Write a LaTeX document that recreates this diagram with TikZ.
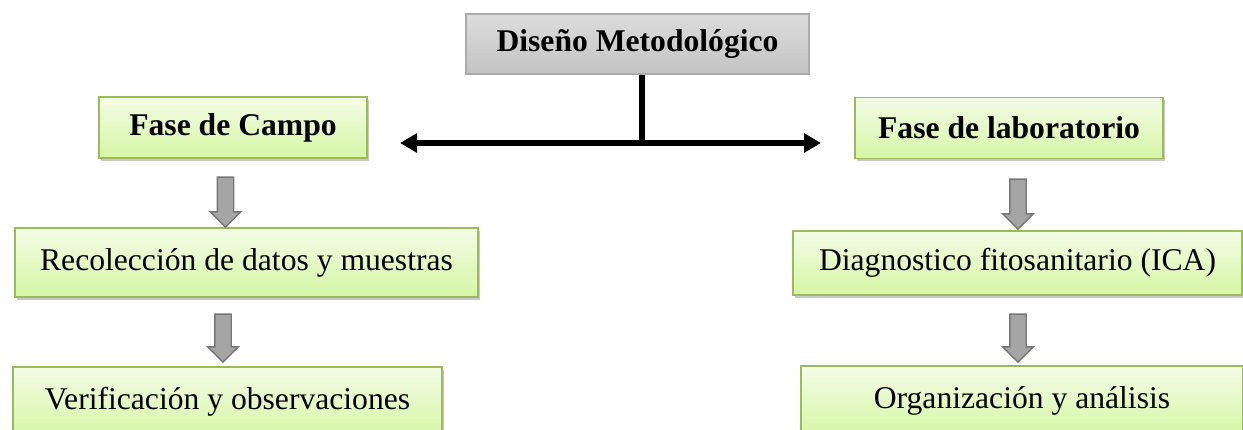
\documentclass[tikz,border=0pt]{standalone}
\usepackage{fontspec}
\setmainfont{Liberation Serif}
\usetikzlibrary{arrows.meta, shapes.arrows, shadows}

\definecolor{verdeborde}{RGB}{155,187,89}
\definecolor{verdeclaro}{RGB}{243,252,230}
\definecolor{verdeoscuro}{RGB}{214,246,164}
\definecolor{grisborde}{RGB}{170,170,170}
\definecolor{grisclaro}{RGB}{220,220,220}
\definecolor{grisoscuro}{RGB}{195,195,195}
\definecolor{flechagris}{RGB}{165,165,165}
\definecolor{flechaborde}{RGB}{118,118,118}

\begin{document}
\begin{tikzpicture}[x=0.02cm, y=-0.02cm, font=\fontsize{18}{22}\selectfont,
  caja/.style={draw=verdeborde, line width=0.9pt, top color=verdeclaro, bottom color=verdeoscuro,
    drop shadow={shadow xshift=1.2pt, shadow yshift=-1.6pt, opacity=0.3, fill=black!70},
    inner sep=0pt, minimum height=1.38cm},
  fase node/.style={caja, minimum height=1.22cm, font=\fontsize{18}{22}\selectfont\bfseries},
  titulo node/.style={draw=grisborde, line width=0.9pt, top color=grisclaro, bottom color=grisoscuro,
    inner sep=0pt, minimum width=6.86cm, minimum height=1.2cm, font=\fontsize{18}{22}\selectfont\bfseries},
  flecha/.style={single arrow, draw=flechaborde, fill=flechagris, line width=0.8pt, rotate=-90,
    inner sep=0pt, inner ysep=0.15cm, single arrow head extend=0.14cm, minimum height=1cm},
  linea/.style={line width=0.11cm}]

  \path[use as bounding box, clip] (0,0) rectangle (1243,429);

  \node[titulo node] (titulo) at (637.5,44) {Diseño Metodológico};

  \node[fase node, minimum width=5.36cm] (campo) at (233,127.5) {Fase de Campo};
  \node[fase node, minimum width=6.16cm] (lab) at (1009,128) {Fase de laboratorio};

  \node[caja, minimum width=9.26cm] (recol) at (246.5,262.5) {Recolección de datos y muestras};
  \node[caja, minimum width=8.98cm, minimum height=1.28cm] (diag) at (1017.5,263) {Diagnostico fitosanitario (ICA)};
  \node[caja, minimum width=8.58cm, minimum height=1.4cm] (verif) at (227.5,402) {Verificación y observaciones};
  \node[caja, minimum width=8.84cm, minimum height=1.4cm] (organ) at (1022,401) {Organización y análisis};

  % flechas grises
  \node[flecha] (f1) at (225.5,198) {};
  \node[flecha, minimum height=0.96cm] (f2) at (223,334) {};
  \node[flecha] (f3) at (1018,200) {};
  \node[flecha, minimum height=0.96cm] (f4) at (1018,334) {};

  % conector principal
  \coordinate (izq) at (400,143);
  \coordinate (der) at (821,143);
  \coordinate (union) at (642,143);
  \draw[linea, {Triangle[length=0.34cm,width=0.37cm]}-{Triangle[length=0.34cm,width=0.37cm]}] (izq) -- (der);
  \draw[linea] (union |- titulo.south) -- (union);
\end{tikzpicture}
\end{document}
